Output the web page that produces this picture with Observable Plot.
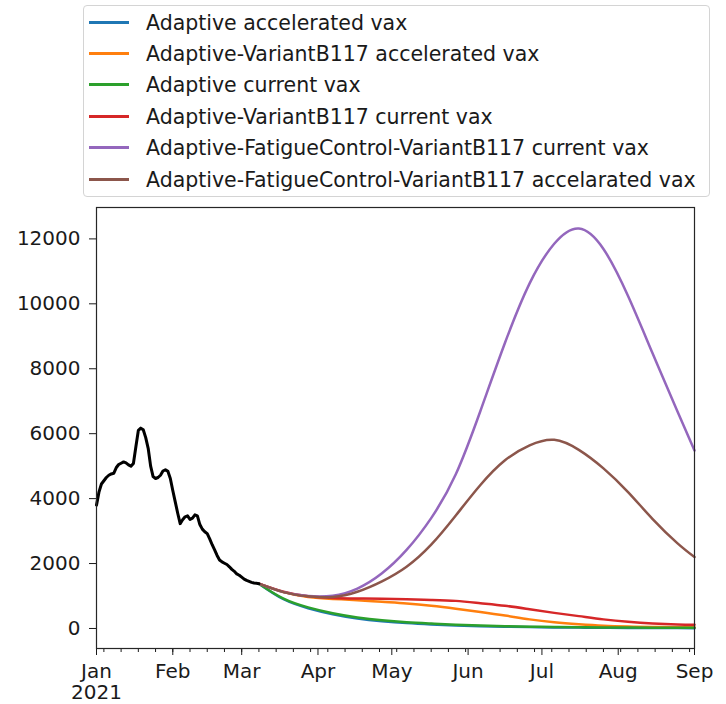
<!DOCTYPE html>
<html>
<head>
<meta charset="utf-8">
<script src="https://cdn.jsdelivr.net/npm/d3@7"></script>
<script src="https://cdn.jsdelivr.net/npm/@observablehq/plot@0.6"></script>
<style>
  body { margin: 0; background: #fff; font-family: "DejaVu Sans", sans-serif; }
  #wrap { position: relative; width: 726px; height: 704px; }
  #legend { position: absolute; left: 83px; top: 5px; width: 625px; height: 190px;
            border: 1px solid #d4d4d4; border-radius: 4px; background: #fff; }
  .row { position: absolute; left: 0; height: 31px; display: flex; align-items: center; }
  .sw { width: 40px; height: 3px; margin-left: 5px; margin-right: 17px; }
  .lab { font-size: 20.5px; color: #1a1a1a; white-space: nowrap; }
  #chart { position: absolute; left: 0; top: 200px; }
</style>
</head>
<body>
<div id="wrap">
  <div id="legend"></div>
  <div id="chart"></div>
</div>
<script>
// ---- data ----
const seriesNames = [
  "Adaptive accelerated vax",
  "Adaptive-VariantB117 accelerated vax",
  "Adaptive current vax",
  "Adaptive-VariantB117 current vax",
  "Adaptive-FatigueControl-VariantB117 current vax",
  "Adaptive-FatigueControl-VariantB117 accelarated vax"
];
const seriesColors = ["#1f77b4", "#ff7f0e", "#2ca02c", "#d62728", "#9467bd", "#8c564b"];

// observed daily values, starting 2021-01-01
const observedStart = "2021-01-01";
const observedValues = [
  3800, 4200, 4450, 4550, 4650, 4720, 4760, 4780, 4950, 5050,
  5090, 5130, 5100, 5040, 5000, 5080, 5600, 6100, 6170, 6120,
  5880, 5550, 5000, 4680, 4620, 4650, 4720, 4850, 4890, 4840,
  4620, 4250, 3900, 3550, 3230, 3350, 3440, 3470, 3360, 3400,
  3500, 3470, 3200, 3060, 2980, 2920, 2760, 2580, 2420, 2250,
  2110, 2050, 2010, 1970, 1900, 1820, 1760, 1680, 1640, 1580,
  1520, 1480, 1450, 1420, 1400, 1390, 1380
];

// projection dates
const projDates = [
  "2021-03-08", "2021-03-18", "2021-03-28", "2021-04-07", "2021-04-17",
  "2021-04-27", "2021-05-07", "2021-05-17", "2021-05-27", "2021-06-06",
  "2021-06-16", "2021-06-26", "2021-07-06", "2021-07-16", "2021-07-26",
  "2021-08-05", "2021-08-15", "2021-08-25", "2021-09-01"
];
const adaptiveAccel     = [1380, 900, 625, 440, 310, 225, 165, 125, 95, 72, 55, 42, 33, 26, 20, 16, 13, 11, 10];
const variantAccel      = [1380, 1120, 970, 910, 870, 820, 770, 700, 610, 510, 400, 280, 190, 130, 85, 60, 45, 38, 35];
const adaptiveCurrent   = [1380, 920, 650, 470, 340, 250, 190, 150, 115, 90, 70, 55, 45, 38, 32, 28, 25, 22, 20];
const variantCurrent    = [1380, 1130, 990, 940, 925, 915, 900, 880, 850, 780, 700, 590, 480, 380, 280, 205, 155, 125, 115];
const fatigueCurrent    = [1380, 1120, 1000, 1010, 1230, 1700, 2420, 3400, 4750, 6700, 8800, 10630, 11850, 12320, 11690, 10240, 8470, 6700, 5480];
const fatigueAccel      = [1380, 1120, 990, 970, 1130, 1450, 1900, 2580, 3480, 4420, 5180, 5640, 5810, 5500, 4930, 4200, 3370, 2630, 2200];
const seriesValues = [adaptiveAccel, variantAccel, adaptiveCurrent, variantCurrent, fatigueCurrent, fatigueAccel];

// ticks
const yTicks = [0, 2000, 4000, 6000, 8000, 10000, 12000];
const monthTicks = ["2021-01-01", "2021-02-01", "2021-03-01", "2021-04-01", "2021-05-01",
                    "2021-06-01", "2021-07-01", "2021-08-01", "2021-09-01"];
const monthLabels = ["Jan\n2021", "Feb", "Mar", "Apr", "May", "Jun", "Jul", "Aug", "Sep"];
const xDomain = ["2021-01-01", "2021-09-01"];
const yDomain = [-617, 12967];

// ---- build tables ----
const parse = d3.utcParse("%Y-%m-%d");
const obsStartDate = parse(observedStart);
const observed = observedValues.map((v, i) => ({date: d3.utcDay.offset(obsStartDate, i), value: v}));
const proj = [];
seriesNames.forEach((name, s) => {
  projDates.forEach((d, i) => proj.push({date: parse(d), value: seriesValues[s][i], series: name}));
});
const majorTicks = monthTicks.map(parse);
const x0 = parse(xDomain[0]), x1 = parse(xDomain[1]);
const minorTicks = d3.utcMonday.range(x0, d3.utcDay.offset(x1, 1));

// ---- legend ----
const legend = document.getElementById("legend");
seriesNames.forEach((name, i) => {
  const row = document.createElement("div");
  row.className = "row";
  row.style.top = Math.round(16 + 31.4 * i - 15.5) + "px";
  const sw = document.createElement("div");
  sw.className = "sw";
  sw.style.background = seriesColors[i];
  const lab = document.createElement("span");
  lab.className = "lab";
  lab.textContent = name;
  row.appendChild(sw);
  row.appendChild(lab);
  legend.appendChild(row);
});

// ---- chart ----
const chart = Plot.plot({
  width: 726,
  height: 504,
  marginLeft: 96,
  marginRight: 32,
  marginTop: 7,
  marginBottom: 56,
  style: {fontFamily: "DejaVu Sans, sans-serif", fontSize: "20px", color: "#1a1a1a", background: "#fff"},
  x: {type: "utc", domain: [x0, x1]},
  y: {domain: yDomain},
  color: {domain: seriesNames, range: seriesColors},
  marks: [
    Plot.axisY({ticks: yTicks, tickSize: 7, tickPadding: 9, tickFormat: d => String(d), label: null, fontSize: 20}),
    Plot.axisX({ticks: minorTicks, tickSize: 4, tickFormat: () => "", label: null}),
    Plot.axisX({ticks: majorTicks, tickSize: 7, tickPadding: 7, label: null, fontSize: 20, lineHeight: 1.08,
                tickFormat: (d) => monthLabels[majorTicks.findIndex(t => +t === +d)]}),
    Plot.line(proj, {x: "date", y: "value", z: "series", stroke: "series", strokeWidth: 2.5, curve: "natural"}),
    Plot.line(observed, {x: "date", y: "value", stroke: "black", strokeWidth: 3}),
    Plot.frame({stroke: "#262626", strokeWidth: 1.2})
  ]
});
document.getElementById("chart").appendChild(chart);
</script>
</body>
</html>
